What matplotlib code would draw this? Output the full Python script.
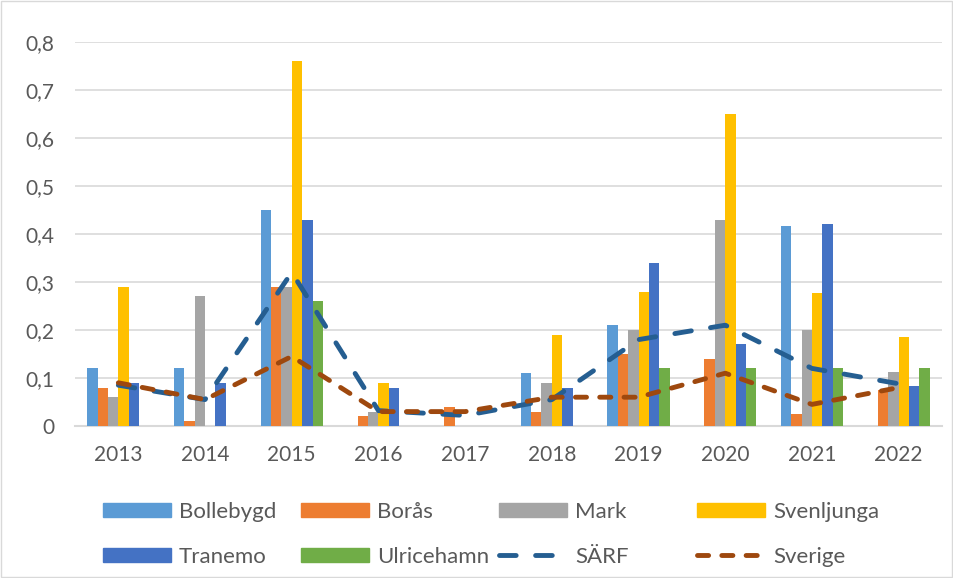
import matplotlib.pyplot as plt
import numpy as np
from matplotlib.lines import Line2D
from matplotlib.patches import Patch, Rectangle

plt.rcParams['font.family'] = ['Lato', 'DejaVu Sans']
plt.rcParams['lines.scale_dashes'] = False

years = ["2013", "2014", "2015", "2016", "2017", "2018", "2019", "2020", "2021", "2022"]

bollebygd = [0.12, 0.12, 0.45, 0, 0, 0.11, 0.21, 0, 0.417, 0]
boras = [0.08, 0.01, 0.29, 0.02, 0.04, 0.03, 0.15, 0.14, 0.025, 0.075]
mark = [0.06, 0.27, 0.29, 0.03, 0, 0.09, 0.20, 0.43, 0.20, 0.113]
svenljunga = [0.29, 0, 0.76, 0.09, 0, 0.19, 0.28, 0.65, 0.277, 0.185]
tranemo = [0.09, 0.09, 0.43, 0.08, 0, 0.08, 0.34, 0.17, 0.42, 0.083]
ulricehamn = [0, 0, 0.26, 0, 0, 0, 0.12, 0.12, 0.12, 0.12]
sarf = [0.085, 0.055, 0.32, 0.032, 0.022, 0.055, 0.18, 0.21, 0.12, 0.088]
sverige = [0.09, 0.055, 0.145, 0.03, 0.03, 0.06, 0.06, 0.11, 0.045, 0.08]

bar_series = [
    ("Bollebygd", bollebygd, "#5B9BD5"),
    ("Borås", boras, "#ED7D31"),
    ("Mark", mark, "#A5A5A5"),
    ("Svenljunga", svenljunga, "#FFC000"),
    ("Tranemo", tranemo, "#4472C4"),
    ("Ulricehamn", ulricehamn, "#70AD47"),
]
text_col = "#595959"
grid_col = "#d9d9d9"
fs = 15
leg_fs = 16

fig = plt.figure(figsize=(9.54, 5.78), dpi=100)
ax = fig.add_axes([75 / 954, 1 - 426 / 578, 867 / 954, 384 / 578])

x = np.arange(len(years))
w = 0.12
for i, (name, vals, col) in enumerate(bar_series):
    ax.bar(x + (i - 2.5) * w, vals, w, color=col, zorder=2)

lw = 3.5
ax.plot(x, sarf, color="#255E91", lw=lw, dashes=(12, 14),
        dash_capstyle="round", zorder=3)
ax.plot(x, sverige, color="#9E480E", lw=lw, dashes=(8, 9.5),
        dash_capstyle="round", zorder=3)

ax.set_xlim(-0.5, len(years) - 0.5)
ax.set_ylim(0, 0.8)
ax.set_yticks(np.arange(0, 0.81, 0.1))
ax.set_yticklabels(["0"] + [f"{v:.1f}".replace(".", ",") for v in np.arange(0.1, 0.81, 0.1)])
ax.set_xticks(x)
ax.set_xticklabels(years)
ax.tick_params(axis="both", length=0, labelsize=fs, colors=text_col)
ax.tick_params(axis="x", pad=14)
ax.tick_params(axis="y", pad=15)
ax.grid(axis="y", color=grid_col, lw=1.2, zorder=0)
ax.set_axisbelow(True)
for s in ["top", "right", "left"]:
    ax.spines[s].set_visible(False)
ax.spines["bottom"].set_color(grid_col)
ax.spines["bottom"].set_linewidth(1.5)
ax.spines["bottom"].set_zorder(1)

handles = [Patch(color=c) for _, _, c in bar_series]
handles += [
    Line2D([], [], color="#255E91", lw=lw, dashes=(12, 14), dash_capstyle="round"),
    Line2D([], [], color="#9E480E", lw=lw, dashes=(8, 9.5), dash_capstyle="round"),
]
labels = [n for n, _, _ in bar_series] + ["SÄRF", "Sverige"]
cols = [[0, 4], [1, 5], [2, 6], [3, 7]]
col_x = [103, 301, 499, 697]
for cx, idx in zip(col_x, cols):
    fig.legend([handles[j] for j in idx], [labels[j] for j in idx],
               loc="upper left", bbox_to_anchor=(cx / 954, 1 - 502 / 578),
               frameon=False, fontsize=leg_fs, handlelength=3.06,
               handleheight=0.63, handletextpad=0.36, labelspacing=1.12,
               borderpad=0, borderaxespad=0, labelcolor=text_col)

fig.patches.append(Rectangle((0.001, 0.001), 0.997, 0.997, transform=fig.transFigure,
                             fill=False, edgecolor=grid_col, lw=1))

fig.savefig("out.png", dpi=100)
